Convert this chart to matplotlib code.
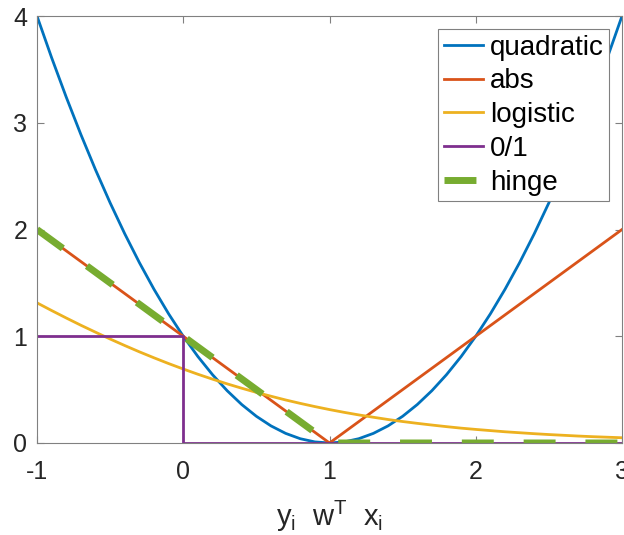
#!/usr/bin/python
import numpy as np
import matplotlib
matplotlib.use('Agg')
import matplotlib.pyplot as plt

#===============================
# values
x_fine = [-1.0, -0.9, -0.8, -0.7, -0.6, -0.5, -0.4, -0.3, -0.2, -0.1,
          0.0, 0.1, 0.2, 0.3, 0.4, 0.5, 0.6, 0.7, 0.8, 0.9,
          1.0, 1.1, 1.2, 1.3, 1.4, 1.5, 1.6, 1.7, 1.8, 1.9,
          2.0, 2.1, 2.2, 2.3, 2.4, 2.5, 2.6, 2.7, 2.8, 2.9, 3.0]
quadratic = [4.00, 3.61, 3.24, 2.89, 2.56, 2.25, 1.96, 1.69, 1.44, 1.21,
             1.00, 0.81, 0.64, 0.49, 0.36, 0.25, 0.16, 0.09, 0.04, 0.01,
             0.00, 0.01, 0.04, 0.09, 0.16, 0.25, 0.36, 0.49, 0.64, 0.81,
             1.00, 1.21, 1.44, 1.69, 1.96, 2.25, 2.56, 2.89, 3.24, 3.61, 4.00]
logistic = [1.313, 1.241, 1.171, 1.103, 1.038, 0.974, 0.913, 0.854, 0.798, 0.744,
            0.693, 0.644, 0.598, 0.554, 0.513, 0.474, 0.438, 0.403, 0.371, 0.341,
            0.313, 0.287, 0.263, 0.241, 0.220, 0.201, 0.184, 0.168, 0.153, 0.139,
            0.127, 0.116, 0.105, 0.096, 0.087, 0.079, 0.072, 0.065, 0.059, 0.054, 0.049]
x_abs = [-1, 1, 3]
absloss = [2, 0, 2]
x_01 = [-1, 0, 0, 3]
zero_one = [1, 1, 0, 0]
x_hinge = [-1, 1, 3]
hinge = [2, 0, 0]

xticks = [-1, 0, 1, 2, 3]
yticks = [0, 1, 2, 3, 4]

#==================================
def DrawFig(filename):
  plt.rcParams['font.family'] = ['Liberation Sans', 'DejaVu Sans']
  plt.rcParams['mathtext.fontset'] = 'custom'
  plt.rcParams['mathtext.rm'] = 'Liberation Sans'
  plt.rcParams['mathtext.it'] = 'Liberation Sans'

  fig = plt.figure(figsize=(6.24, 5.35), dpi=100)
  ax = fig.add_axes([0.0593, 0.172, 0.9375, 0.798])

  lw = 2.0
  ax.plot(x_fine, quadratic, color='#0072BD', lw=lw, label='quadratic')
  ax.plot(x_abs, absloss, color='#D95319', lw=lw, label='abs')
  ax.plot(x_fine, logistic, color='#EDB120', lw=lw, label='logistic')
  ax.plot(x_01, zero_one, color='#7E2F8E', lw=lw, label='0/1')
  hw = 5.0
  ax.plot(x_hinge, hinge, color='#77AC30', lw=hw, label='hinge',
          linestyle=(0, (23.0 / hw, 21.5 / hw)), dash_capstyle='butt')

  ax.set_xlim(-1, 3)
  ax.set_ylim(0, 4)
  ax.set_xticks(xticks)
  ax.set_yticks(yticks)
  ax.set_xticklabels([str(t) for t in xticks])
  ax.tick_params(direction='in', length=5, width=0.8, color='#808080',
                 labelsize=18, labelcolor='#262626', top=True, right=True)
  ax.tick_params(axis='x', pad=12)
  ax.tick_params(axis='y', pad=7)
  for s in ax.spines.values():
    s.set_color('#808080')
    s.set_linewidth(0.8)

  ax.set_xlabel(r'$\mathregular{y_i\ \ w^T\ \ x_i}$', fontsize=21, color='#262626', labelpad=11)

  leg = ax.legend(loc='upper right', bbox_to_anchor=(0.978, 0.9696), fontsize=20,
                  handlelength=1.4, handletextpad=0.25, labelspacing=0.28,
                  borderpad=0.2, borderaxespad=0.0, fancybox=False, framealpha=1)
  leg.get_frame().set_edgecolor('#808080')
  leg.get_frame().set_linewidth(0.8)

  plt.savefig(filename, dpi=100)
  return

#==================================
def main():
  DrawFig('out.png')
  return

# -------------------------------
if __name__ == '__main__':
  main()
